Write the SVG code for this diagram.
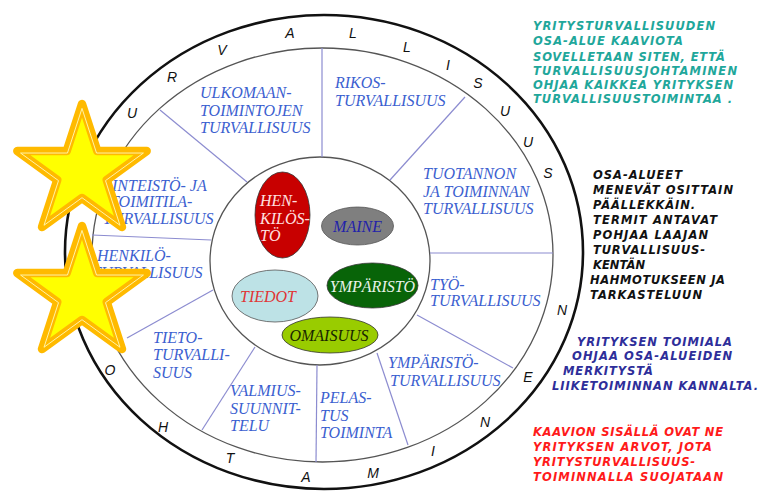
<svg xmlns="http://www.w3.org/2000/svg" xmlns:xlink="http://www.w3.org/1999/xlink" width="760" height="492" viewBox="0 0 760 492">
<style>
.ring{fill:none;stroke:#555;stroke-width:1.3}
.outer{fill:none;stroke:#111;stroke-width:2.6}
.spoke{stroke:#8c8cd0;stroke-width:1.2;fill:none}
.area{font-family:"Liberation Serif",serif;font-style:italic;font-size:16px;fill:#3c5fd0}
.val{font-family:"Liberation Serif",serif;font-style:italic;font-size:16px}
.ch{font-family:"Liberation Sans",sans-serif;font-style:italic;font-size:14px;fill:#111;text-anchor:middle}
.note{font-family:"DejaVu Sans",sans-serif;font-weight:bold;font-style:italic;font-size:11.5px}
.star{fill:#ffff00;stroke:#ffba00;stroke-width:8.5;stroke-linejoin:round}
.starline{fill:none;stroke:#fff5b0;stroke-width:1;stroke-linejoin:round}
</style>
<defs>
<path id="starshape" d="M0,-68 L15.28,-21.03 L64.67,-21.01 L24.73,8.03 L39.97,55.01 L0,26 L-39.97,55.01 L-24.73,8.03 L-64.67,-21.01 L-15.28,-21.03Z"/>
</defs>
<rect width="760" height="492" fill="#fff"/>

<g id="circles">
<ellipse class="outer" cx="324" cy="252" rx="259" ry="237"/>
<ellipse class="ring" cx="322.5" cy="255" rx="230.5" ry="207"/>
<ellipse class="ring" cx="320" cy="261" rx="110" ry="104"/>
</g>

<g id="connectors">
<line class="spoke" x1="247" y1="182" x2="160" y2="110"/>
<line class="spoke" x1="322" y1="48" x2="322" y2="157"/>
<line class="spoke" x1="390" y1="180" x2="465" y2="97"/>
<line class="spoke" x1="430" y1="253" x2="553" y2="253"/>
<line class="spoke" x1="417" y1="315" x2="513" y2="368"/>
<line class="spoke" x1="377" y1="353" x2="408" y2="445"/>
<line class="spoke" x1="317" y1="365" x2="316" y2="462"/>
<line class="spoke" x1="255" y1="347" x2="202" y2="430"/>
<line class="spoke" x1="213" y1="290" x2="127" y2="338"/>
<line class="spoke" x1="92" y1="235" x2="211" y2="240"/>
</g>

<g id="ring-letters">
<text class="ch" x="132" y="118">U</text>
<text class="ch" x="172" y="82">R</text>
<text class="ch" x="222" y="55">V</text>
<text class="ch" x="290" y="38">A</text>
<text class="ch" x="353" y="38">L</text>
<text class="ch" x="407" y="52">L</text>
<text class="ch" x="448" y="70">I</text>
<text class="ch" x="478" y="88">S</text>
<text class="ch" x="505" y="116">U</text>
<text class="ch" x="528" y="147">U</text>
<text class="ch" x="548" y="178">S</text>
<text class="ch" x="562" y="315">N</text>
<text class="ch" x="528" y="382">E</text>
<text class="ch" x="485" y="427">N</text>
<text class="ch" x="433" y="456">I</text>
<text class="ch" x="373" y="478">M</text>
<text class="ch" x="306" y="482">A</text>
<text class="ch" x="230" y="463">T</text>
<text class="ch" x="163" y="432">H</text>
<text class="ch" x="110" y="375">O</text>
</g>

<g id="ulkomaan">
<text class="area" x="200" y="98">ULKOMAAN-</text>
<text class="area" x="200" y="116">TOIMINTOJEN</text>
<text class="area" x="200" y="133">TURVALLISUUS</text>
</g>
<g id="rikos">
<text class="area" x="335" y="88">RIKOS-</text>
<text class="area" x="335" y="106">TURVALLISUUS</text>
</g>
<g id="tuotannon">
<text class="area" x="423" y="179">TUOTANNON</text>
<text class="area" x="423" y="197">JA TOIMINNAN</text>
<text class="area" x="423" y="214">TURVALLISUUS</text>
</g>
<g id="tyo">
<text class="area" x="430" y="290">TYÖ-</text>
<text class="area" x="430" y="306">TURVALLISUUS</text>
</g>
<g id="ymparisto-turva">
<text class="area" x="388" y="368">YMPÄRISTÖ-</text>
<text class="area" x="390" y="386">TURVALLISUUS</text>
</g>
<g id="pelastus">
<text class="area" x="320" y="403">PELAS-</text>
<text class="area" x="320" y="421">TUS</text>
<text class="area" x="320" y="438">TOIMINTA</text>
</g>
<g id="valmius">
<text class="area" x="230" y="396">VALMIUS-</text>
<text class="area" x="230" y="414">SUUNNIT-</text>
<text class="area" x="230" y="431">TELU</text>
</g>
<g id="tieto">
<text class="area" x="153" y="343">TIETO-</text>
<text class="area" x="153" y="360">TURVALLI-</text>
<text class="area" x="153" y="378">SUUS</text>
</g>
<g id="henkilo">
<text class="area" x="97" y="261">HENKILÖ-</text>
<text class="area" x="92" y="278">TURVALLISUUS</text>
</g>
<g id="kiinteisto">
<text class="area" x="96" y="191">KIINTEISTÖ- JA</text>
<text class="area" x="110" y="207">TOIMITILA-</text>
<text class="area" x="103" y="224">TURVALLISUUS</text>
</g>

<g id="henkilosto">
<ellipse cx="282.5" cy="215" rx="27.5" ry="43" fill="#c80000" stroke="#333" stroke-width="0.8"/>
<text class="val" fill="#ffe0e0" x="260" y="206">HEN-</text>
<text class="val" fill="#ffe0e0" x="260" y="224">KILÖS-</text>
<text class="val" fill="#ffe0e0" x="260" y="241">TÖ</text>
</g>
<g id="maine">
<ellipse cx="357.5" cy="226" rx="36" ry="19" fill="#7f7f7f" stroke="#555" stroke-width="0.8"/>
<text class="val" fill="#2222aa" x="357.5" y="232" text-anchor="middle">MAINE</text>
</g>
<g id="tiedot">
<ellipse cx="275" cy="296" rx="43" ry="26" fill="#bde2e6" stroke="#555" stroke-width="0.8"/>
<text class="val" fill="#e03535" x="268" y="302" text-anchor="middle">TIEDOT</text>
</g>
<g id="ymparisto">
<ellipse cx="372.5" cy="285.5" rx="45.5" ry="22.5" fill="#086408" stroke="#333" stroke-width="0.8"/>
<text class="val" fill="#e8f2e8" x="372.5" y="292" text-anchor="middle">YMPÄRISTÖ</text>
</g>
<g id="omaisuus">
<ellipse cx="330" cy="335" rx="48" ry="18" fill="#99cc00" stroke="#333" stroke-width="0.8"/>
<text class="val" fill="#1a2600" x="329" y="341" text-anchor="middle">OMAISUUS</text>
</g>

<g id="note-teal" class="note" fill="#1fa79b">
<text x="533" y="30" textLength="182">YRITYSTURVALLISUUDEN</text>
<text x="533" y="45" textLength="150">OSA-ALUE KAAVIOTA</text>
<text x="533" y="61" textLength="192">SOVELLETAAN SITEN, ETTÄ</text>
<text x="533" y="75" textLength="204">TURVALLISUUSJOHTAMINEN</text>
<text x="533" y="89" textLength="200">OHJAA KAIKKEA YRITYKSEN</text>
<text x="533" y="103" textLength="199">TURVALLISUUSTOIMINTAA .</text>
</g>
<g id="note-black" class="note" fill="#111">
<text x="593" y="179" textLength="89">OSA-ALUEET</text>
<text x="593" y="194" textLength="140">MENEVÄT OSITTAIN</text>
<text x="593" y="209" textLength="102">PÄÄLLEKKÄIN.</text>
<text x="593" y="224" textLength="124">TERMIT ANTAVAT</text>
<text x="593" y="239" textLength="115">POHJAA LAAJAN</text>
<text x="593" y="254" textLength="112">TURVALLISUUS-</text>
<text x="593" y="269" textLength="52">KENTÄN</text>
<text x="590" y="284" textLength="135">HAHMOTUKSEEN JA</text>
<text x="590" y="299" textLength="112">TARKASTELUUN</text>
</g>
<g id="note-blue" class="note" fill="#2e2e9a">
<text x="577" y="346" textLength="155">YRITYKSEN TOIMIALA</text>
<text x="572" y="360" textLength="160">OHJAA OSA-ALUEIDEN</text>
<text x="563" y="375" textLength="90">MERKITYSTÄ</text>
<text x="552" y="390" textLength="206">LIIKETOIMINNAN KANNALTA.</text>
</g>
<g id="note-red" class="note" fill="#ff1a1a">
<text x="533" y="436" textLength="190">KAAVION SISÄLLÄ OVAT NE</text>
<text x="533" y="451" textLength="179">YRITYKSEN ARVOT, JOTA</text>
<text x="533" y="466" textLength="162">YRITYSTURVALLISUUS-</text>
<text x="533" y="481" textLength="190">TOIMINNALLA SUOJATAAN</text>
</g>

<g id="stars">
<use xlink:href="#starshape" class="star" transform="translate(82,172)"/>
<use xlink:href="#starshape" class="starline" transform="translate(82,173) scale(0.95)"/>
<use xlink:href="#starshape" class="star" transform="translate(82,294)"/>
<use xlink:href="#starshape" class="starline" transform="translate(82,295) scale(0.95)"/>
</g>
</svg>
